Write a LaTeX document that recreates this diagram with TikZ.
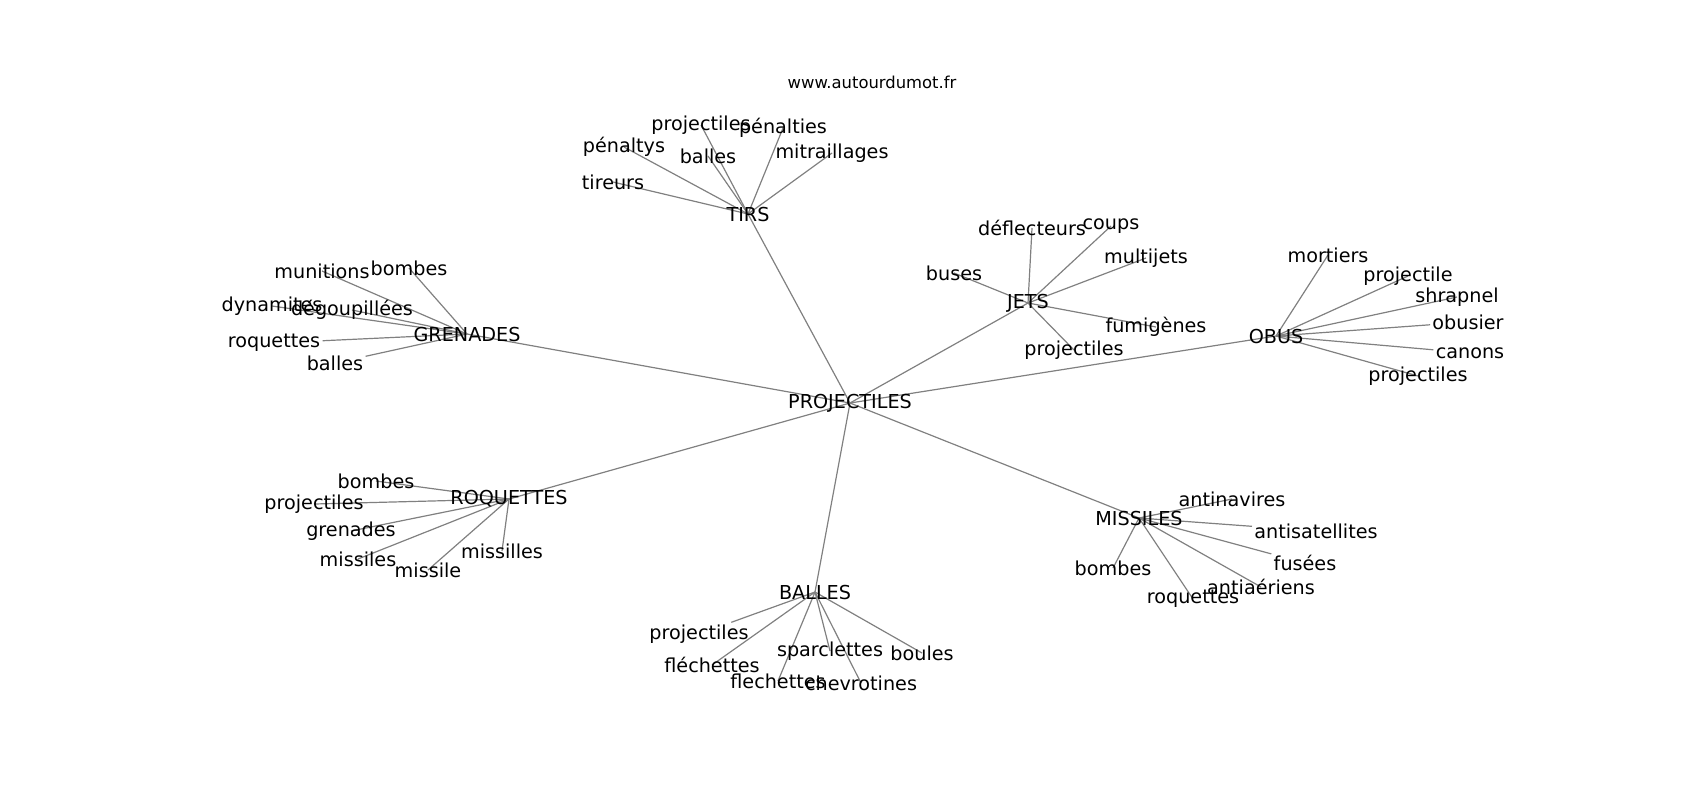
\documentclass[tikz,border=0pt]{standalone}
\usepackage{fontspec}
\setmainfont{DejaVu Sans}
\usetikzlibrary{backgrounds}
\begin{document}
\begin{tikzpicture}[x=0.5pt,y=-0.5pt,
  lbl/.style={inner sep=1pt,font=\fontsize{9.6}{11}\selectfont},
  edge/.style={draw=gray,line width=0.6pt}]
\useasboundingbox (0,0) rectangle (1700,800);
\node[font=\fontsize{8.2}{10}\selectfont] (web) at (872,82) {www.autourdumot.fr};

\node[lbl] (p) at (850,403) {PROJECTILES};
\node[lbl] (t) at (748,214) {TIRS};
\node[lbl] (g) at (467,334) {GRENADES};
\node[lbl] (j) at (1028,303) {JETS};
\node[lbl] (o) at (1276,336) {OBUS};
\node[lbl] (m) at (1139,518) {MISSILES};
\node[lbl] (b) at (815,592) {BALLES};
\node[lbl] (r) at (509,499) {ROQUETTES};

\node[lbl] (t1) at (701,125) {projectiles};
\node[lbl] (t2) at (783,128) {pénalties};
\node[lbl] (t3) at (624,147) {pénaltys};
\node[lbl] (t4) at (708,156) {balles};
\node[lbl] (t5) at (832,153) {mitraillages};
\node[lbl] (t6) at (613,182) {tireurs};

\node[lbl] (g1) at (322,271) {munitions};
\node[lbl] (g2) at (409,268) {bombes};
\node[lbl] (g3) at (272,306) {dynamites};
\node[lbl] (g4) at (352,310) {dégoupillées};
\node[lbl] (g5) at (274,343) {roquettes};
\node[lbl] (g6) at (335,363) {balles};

\node[lbl] (r1) at (376,481) {bombes};
\node[lbl] (r2) at (314,504) {projectiles};
\node[lbl] (r3) at (351,531) {grenades};
\node[lbl] (r4) at (358,559) {missiles};
\node[lbl] (r5) at (428,570) {missile};
\node[lbl] (r6) at (502,551) {missilles};

\node[lbl] (b1) at (699,634) {projectiles};
\node[lbl] (b2) at (712,665) {fléchettes};
\node[lbl] (b3) at (830,651) {sparclettes};
\node[lbl] (b4) at (922,653) {boules};
\node[lbl] (b5) at (778,681) {flechettes};
\node[lbl] (b6) at (861,683) {chevrotines};

\node[lbl] (m1) at (1232,499) {antinavires};
\node[lbl] (m2) at (1316,531) {antisatellites};
\node[lbl] (m3) at (1305,563) {fusées};
\node[lbl] (m4) at (1261,587) {antiaériens};
\node[lbl] (m5) at (1113,568) {bombes};
\node[lbl] (m6) at (1193,599) {roquettes};

\node[lbl] (j1) at (1032,228) {déflecteurs};
\node[lbl] (j2) at (1111,226) {coups};
\node[lbl] (j3) at (1146,258) {multijets};
\node[lbl] (j4) at (954,273) {buses};
\node[lbl] (j5) at (1156,327) {fumigènes};
\node[lbl] (j6) at (1074,350) {projectiles};

\node[lbl] (o1) at (1328,255) {mortiers};
\node[lbl] (o2) at (1408,276) {projectile};
\node[lbl] (o3) at (1457,297) {shrapnel};
\node[lbl] (o4) at (1468,322) {obusier};
\node[lbl] (o5) at (1470,353) {canons};
\node[lbl] (o6) at (1418,376) {projectiles};

\begin{scope}[on background layer]
\draw[edge](p.center)--(t.center);
\draw[edge](p.center)--(g.center);
\draw[edge](p.center)--(j.center);
\draw[edge](p.center)--(o.center);
\draw[edge](p.center)--(m.center);
\draw[edge](p.center)--(b.center);
\draw[edge](p.center)--(r.center);

\draw[edge](t.center)--(t1.center);
\draw[edge](t.center)--(t2.center);
\draw[edge](t.center)--(t3.center);
\draw[edge](t.center)--(t4.center);
\draw[edge](t.center)--(t5.center);
\draw[edge](t.center)--(t6.center);

\draw[edge](g.center)--(g1.center);
\draw[edge](g.center)--(g2.center);
\draw[edge](g.center)--(g3.center);
\draw[edge](g.center)--(g4.center);
\draw[edge](g.center)--(g5);
\draw[edge](g.center)--(g6);

\draw[edge](r.center)--(r1.center);
\draw[edge](r.center)--(r2.center);
\draw[edge](r.center)--(r3.center);
\draw[edge](r.center)--(r4.center);
\draw[edge](r.center)--(r5.center);
\draw[edge](r.center)--(r6.center);

\draw[edge](b.center)--(b1);
\draw[edge](b.center)--(b2.center);
\draw[edge](b.center)--(b3.center);
\draw[edge](b.center)--(b4.center);
\draw[edge](b.center)--(b5.center);
\draw[edge](b.center)--(b6.center);

\draw[edge](m.center)--(m1.center);
\draw[edge](m.center)--(m2);
\draw[edge](m.center)--(m3);
\draw[edge](m.center)--(m4.center);
\draw[edge](m.center)--(m5.center);
\draw[edge](m.center)--(m6.center);

\draw[edge](j.center)--(j1.center);
\draw[edge](j.center)--(j2.center);
\draw[edge](j.center)--(j3.center);
\draw[edge](j.center)--(j4.center);
\draw[edge](j.center)--(j5.center);
\draw[edge](j.center)--(j6.center);

\draw[edge](o.center)--(o1.center);
\draw[edge](o.center)--(o2.center);
\draw[edge](o.center)--(o3.center);
\draw[edge](o.center)--(o4);
\draw[edge](o.center)--(o5);
\draw[edge](o.center)--(o6.center);
\end{scope}
\end{tikzpicture}
\end{document}
